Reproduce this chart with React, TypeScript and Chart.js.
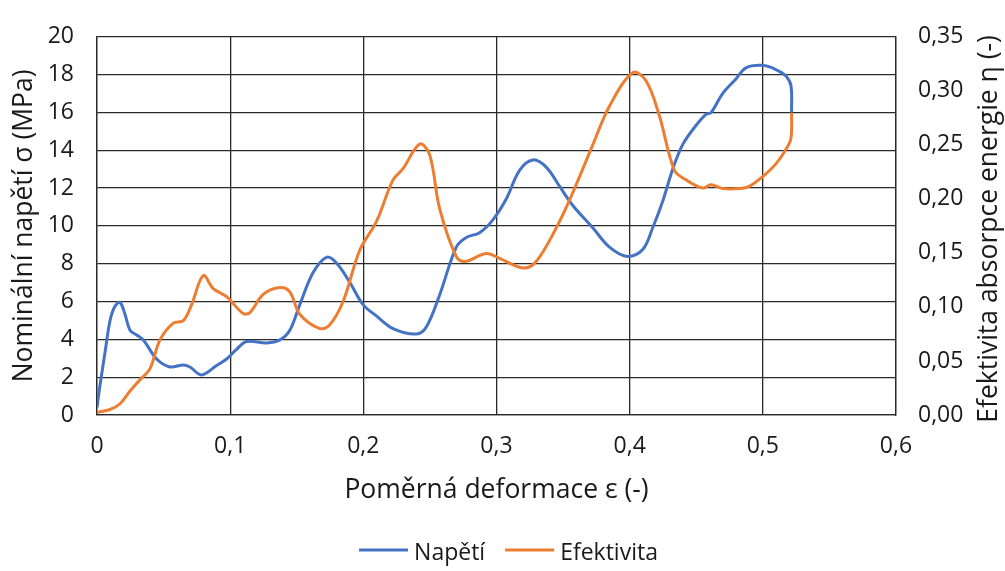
import React, { useEffect, useRef } from 'react';
import { Chart, registerables } from 'chart.js';

Chart.register(...registerables);

// Napětí (MPa) vs. poměrná deformace
const strainNapeti = [0, 0.0023, 0.006, 0.0098, 0.0135, 0.0173, 0.021, 0.0248, 0.0298, 0.0348, 0.0448, 0.0548, 0.0648, 0.0698, 0.0785, 0.0898, 0.0973, 0.1048, 0.1123, 0.1273, 0.1373, 0.1448, 0.1523, 0.1623, 0.1723, 0.1798, 0.1898, 0.1998, 0.2098, 0.2223, 0.2398, 0.2473, 0.2573, 0.2698, 0.2773, 0.2873, 0.2973, 0.3073, 0.3173, 0.3273, 0.3373, 0.3473, 0.3573, 0.3723, 0.3848, 0.3986, 0.4098, 0.4173, 0.4248, 0.4323, 0.4398, 0.4498, 0.4573, 0.4611, 0.4698, 0.4798, 0.4873, 0.4998, 0.5098, 0.5173, 0.5211, 0.5216];
const napeti = [0.4, 1.6, 3.3, 5.0, 5.75, 5.95, 5.33, 4.48, 4.23, 3.97, 2.96, 2.54, 2.65, 2.54, 2.12, 2.62, 2.96, 3.47, 3.89, 3.81, 3.97, 4.48, 5.84, 7.53, 8.34, 8.04, 7.02, 5.84, 5.24, 4.57, 4.28, 4.65, 6.35, 8.88, 9.39, 9.64, 10.32, 11.42, 12.94, 13.49, 13.11, 12.1, 11.08, 9.9, 8.88, 8.38, 8.75, 9.9, 11.3, 13.0, 14.3, 15.31, 15.9, 15.99, 17.0, 17.77, 18.36, 18.49, 18.27, 17.93, 17.43, 15.99];

// Efektivita absorpce energie (-)
const strainEfektivita = [0, 0.0098, 0.0173, 0.0248, 0.0323, 0.0398, 0.0473, 0.0573, 0.0648, 0.071, 0.0798, 0.0873, 0.0973, 0.1098, 0.1148, 0.1248, 0.1373, 0.1448, 0.1523, 0.1673, 0.1748, 0.1848, 0.1973, 0.2098, 0.2223, 0.2298, 0.2423, 0.2498, 0.2573, 0.2698, 0.2761, 0.2923, 0.3023, 0.3198, 0.3298, 0.3448, 0.3573, 0.3723, 0.3848, 0.4023, 0.4123, 0.4223, 0.4336, 0.4423, 0.4548, 0.4611, 0.4698, 0.4823, 0.4898, 0.4998, 0.5098, 0.5173, 0.5211, 0.5216];
const efektivita = [0.0024, 0.0051, 0.0104, 0.0222, 0.0326, 0.0429, 0.0695, 0.085, 0.0873, 0.102, 0.129, 0.117, 0.1095, 0.0939, 0.0948, 0.1117, 0.118, 0.114, 0.0932, 0.08, 0.0835, 0.105, 0.1525, 0.179, 0.2176, 0.228, 0.2507, 0.241, 0.191, 0.1465, 0.142, 0.1495, 0.145, 0.136, 0.142, 0.173, 0.2058, 0.25, 0.2857, 0.3168, 0.3093, 0.277, 0.2265, 0.2176, 0.21, 0.213, 0.2096, 0.2096, 0.2116, 0.2205, 0.2324, 0.2457, 0.256, 0.2797];

const seriesLabels = ['Napětí', 'Efektivita'];
const seriesColors = ['#4472C4', '#ED7D31'];
const xTitle = 'Poměrná deformace ε (-)';
const yTitle = 'Nominální napětí σ (MPa)';
const y1Title = 'Efektivita absorpce energie η (-)';

const FONT = "'Open Sans', 'DejaVu Sans', sans-serif";
const TEXT = '#1a1a1a';
const GRID = '#2a2a2a';
const TICK_SIZE = 23;
const TITLE_SIZE = 26.5;
const LEGEND_SIZE = 23;

const comma = (v: number, d: number) => (v === 0 && d === 1 ? '0' : v.toFixed(d).replace('.', ','));

const extrasPlugin = {
  id: 'extras',
  afterDraw(chart: any) {
    const { ctx, chartArea } = chart;
    ctx.save();
    // right axis title (reads bottom to top)
    ctx.fillStyle = TEXT;
    ctx.font = `${TITLE_SIZE}px ${FONT}`;
    ctx.textAlign = 'center';
    ctx.textBaseline = 'middle';
    ctx.translate(989, (chartArea.top + chartArea.bottom) / 2 + 3);
    ctx.rotate(-Math.PI / 2);
    ctx.fillText(y1Title, 0, 0);
    ctx.restore();

    // legend
    ctx.save();
    ctx.font = `${LEGEND_SIZE}px ${FONT}`;
    ctx.textBaseline = 'middle';
    ctx.textAlign = 'left';
    const lineLen = 49;
    const gapLT = 6;
    const gapItems = 20;
    const widths = seriesLabels.map((l) => ctx.measureText(l).width);
    const total = widths.reduce((a, w) => a + lineLen + gapLT + w, 0) + gapItems * (seriesLabels.length - 1);
    let x = (chartArea.left + chartArea.right) / 2 - total / 2 + 12;
    const y = 553;
    seriesLabels.forEach((l, i) => {
      ctx.strokeStyle = seriesColors[i];
      ctx.lineWidth = 3;
      ctx.beginPath();
      ctx.moveTo(x, y - 3);
      ctx.lineTo(x + lineLen, y - 3);
      ctx.stroke();
      ctx.fillStyle = TEXT;
      ctx.fillText(l, x + lineLen + gapLT, y);
      x += lineLen + gapLT + widths[i] + gapItems;
    });
    ctx.restore();
  },
};

export default function App() {
  const ref = useRef<HTMLCanvasElement>(null);
  useEffect(() => {
    if (!ref.current) return;
    const chart = new Chart(ref.current, {
      type: 'scatter',
      data: {
        datasets: [
          {
            label: seriesLabels[0],
            data: strainNapeti.map((x, i) => ({ x, y: napeti[i] })),
            showLine: true,
            borderColor: seriesColors[0],
            backgroundColor: seriesColors[0],
            borderWidth: 3,
            pointRadius: 0,
            tension: 0.35,
            yAxisID: 'y',
            order: 2,
          },
          {
            label: seriesLabels[1],
            data: strainEfektivita.map((x, i) => ({ x, y: efektivita[i] })),
            showLine: true,
            borderColor: seriesColors[1],
            backgroundColor: seriesColors[1],
            borderWidth: 3,
            pointRadius: 0,
            tension: 0.35,
            yAxisID: 'y1',
            order: 1,
          },
        ],
      },
      options: {
        responsive: false,
        animation: false,
        layout: { padding: { top: 21, left: 0, right: 0, bottom: 0 } },
        plugins: { legend: { display: false }, tooltip: { enabled: false } },
        scales: {
          x: {
            type: 'linear',
            min: 0,
            max: 0.6,
            afterFit: (s: any) => { s.height = 156; },
            ticks: { stepSize: 0.1, padding: 18, color: TEXT, font: { family: FONT, size: TICK_SIZE }, callback: (v: any) => comma(Number(v), 1) },
            grid: { color: GRID, lineWidth: 1.3, drawTicks: false },
            border: { display: true, color: GRID, width: 1.3 },
            title: { display: true, text: xTitle, color: TEXT, font: { family: FONT, size: TITLE_SIZE }, padding: { top: 0, bottom: 65 } },
          },
          y: {
            type: 'linear',
            position: 'left',
            min: 0,
            max: 20,
            afterFit: (s: any) => { s.width = 97; },
            ticks: { stepSize: 2, padding: 23, color: TEXT, font: { family: FONT, size: TICK_SIZE } },
            grid: { color: GRID, lineWidth: 1.3, drawTicks: false },
            border: { display: true, color: GRID, width: 1.3 },
            title: { display: true, text: yTitle, color: TEXT, font: { family: FONT, size: TITLE_SIZE }, padding: { top: 9, bottom: 0 } },
          },
          y1: {
            type: 'linear',
            position: 'right',
            min: 0,
            max: 0.35,
            afterFit: (s: any) => { s.width = 109; },
            ticks: { stepSize: 0.05, padding: 22, color: TEXT, font: { family: FONT, size: TICK_SIZE }, callback: (v: any) => comma(Number(v), 2) },
            grid: { drawOnChartArea: false, drawTicks: false },
            border: { display: true, color: GRID, width: 1.3 },
          },
        },
      },
      plugins: [extrasPlugin],
    } as any);
    return () => chart.destroy();
  }, []);
  return (
    <div style={{ position: 'fixed', left: 0, top: 0, width: 1005, height: 571, background: '#fff' }}>
      <canvas ref={ref} width={1005} height={571} style={{ display: 'block' }} />
    </div>
  );
}
